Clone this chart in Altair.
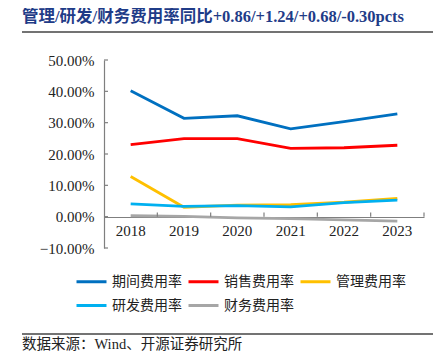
import altair as alt
import pandas as pd

years = ["2018", "2019", "2020", "2021", "2022", "2023"]
series_names = ["期间费用率", "销售费用率", "管理费用率", "研发费用率", "财务费用率"]
period = [40.2, 31.4, 32.2, 28.0, 30.3, 32.8]
sales = [23.0, 24.9, 24.9, 21.8, 22.0, 22.8]
admin = [12.8, 3.0, 3.7, 3.8, 4.6, 5.8]
rnd = [4.1, 3.3, 3.5, 3.1, 4.5, 5.3]
fin = [0.3, 0.1, -0.4, -0.6, -1.0, -1.4]
colors = ["#0070C0", "#FF0000", "#FFC000", "#00B0F0", "#A6A6A6"]
y_ticks = [-0.1, 0.0, 0.1, 0.2, 0.3, 0.4, 0.5]

title_text = "管理/研发/财务费用率同比+0.86/+1.24/+0.68/-0.30pcts"
source_text = "数据来源：Wind、开源证券研究所"

rows = []
for name, vals in zip(series_names, [period, sales, admin, rnd, fin]):
    for y, v in zip(years, vals):
        rows.append({"year": y, "series": name, "value": v / 100.0,
                     "order": series_names.index(name)})
df = pd.DataFrame(rows)

W, H = 320, 188
CJK = "Liberation Serif, Noto Sans CJK SC"

xscale = alt.Scale(domain=years, paddingInner=0, paddingOuter=0)
yscale = alt.Scale(domain=[-0.1, 0.5], nice=False, zero=False)

xaxis = alt.Axis(title=None, labelAngle=0, offset=-31, ticks=False,
                 domainColor="#7f7f7f", domainWidth=1.2,
                 labelFont="Liberation Serif", labelFontSize=15,
                 labelColor="#222222", labelPadding=6)
yaxis = alt.Axis(title=None, values=y_ticks, format=".2%", ticks=False,
                 grid=False, domainColor="#7f7f7f", domainWidth=1.2,
                 labelOverlap=False,
                 labelFont="Liberation Serif", labelFontSize=15,
                 labelColor="#222222", labelPadding=10)

lines = alt.Chart(df).mark_line(strokeWidth=2.8, clip=False).encode(
    x=alt.X("year:N", scale=xscale, sort=years, axis=xaxis),
    y=alt.Y("value:Q", scale=yscale, axis=yaxis),
    color=alt.Color("series:N", sort=series_names,
                    scale=alt.Scale(domain=series_names, range=colors),
                    legend=alt.Legend(title=None, orient="none", legendX=-29, legendY=205,
                                      direction="horizontal",
                                      columns=3, symbolType="stroke",
                                      symbolStrokeWidth=3, symbolSize=900,
                                      labelFont=CJK, labelFontSize=14,
                                      labelColor="#222222", columnPadding=0,
                                      rowPadding=0, labelOffset=4)),
    order=alt.Order("order:Q"),
)

xt = pd.DataFrame({"year": years})
xticks = alt.Chart(xt).mark_rule(stroke="#7f7f7f", strokeWidth=1.2).encode(
    x=alt.X("year:N", scale=xscale, sort=years, bandPosition=1, axis=xaxis),
    y=alt.Y(datum=0.0, scale=yscale, axis=yaxis),
    y2=alt.Y2(datum=0.013),
)

yt = pd.DataFrame({"value": y_ticks})
yticks = alt.Chart(yt).mark_rule(stroke="#7f7f7f", strokeWidth=1.2).encode(
    x=alt.value(0), x2=alt.value(4),
    y=alt.Y("value:Q", scale=yscale, axis=yaxis),
)

top_rule = alt.Chart(pd.DataFrame({"k": [1]})).mark_rule(
    stroke="#444444", strokeWidth=1.5).encode(
    x=alt.value(-82), x2=alt.value(329), y=alt.value(-28))

bot_rect = alt.Chart(pd.DataFrame({"k": [1]})).mark_rect(
    fill="#444444").encode(
    x=alt.value(-82), x2=alt.value(329), y=alt.value(273.25), y2=alt.value(274.75))

title = alt.Chart(pd.DataFrame({"t": [title_text]})).mark_text(
    align="left", baseline="middle", font=CJK, fontSize=16.5, fontWeight="bold",
    fill="#1F3C88").encode(x=alt.value(-82), y=alt.value(-43), text="t:N")

source = alt.Chart(pd.DataFrame({"t": [source_text]})).mark_text(
    align="left", baseline="middle", font=CJK, fontSize=14.5,
    fill="#222222").encode(x=alt.value(-82), y=alt.value(285), text="t:N")

chart = alt.layer(lines, xticks, yticks, top_rule, bot_rect, title, source).properties(
    width=W, height=H,
    autosize=alt.AutoSizeParams(type="none"),
    padding={"left": 96, "top": 52, "right": 11, "bottom": 104},
).configure_view(stroke=None)

chart.save("out.html", embed_options={"renderer": "svg", "actions": False})
